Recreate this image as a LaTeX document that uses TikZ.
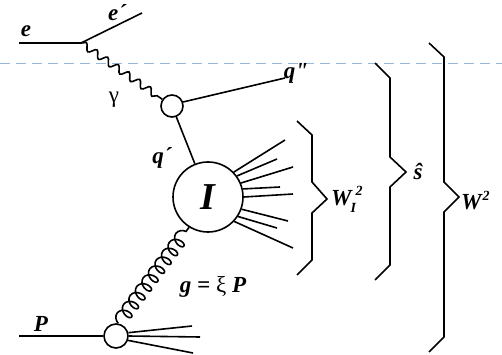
\documentclass[tikz,border=0pt]{standalone}
\usepackage{fontspec}
\setmainfont{Liberation Serif}
\usetikzlibrary{positioning, calc, decorations.pathmorphing}
\definecolor{CutBlue}{RGB}{150, 185, 215}
\newcommand{\supsz}{\fontsize{14}{14}\selectfont}

\begin{document}
\begin{tikzpicture}[x=1pt, y=-1pt,
    line/.style={line width=1.6pt, draw=black},
    vertex/.style={circle, draw=black, line width=1.6pt, fill=white, inner sep=0pt, minimum size=#1},
    tag/.style={inner sep=0pt, font=\fontsize{23}{26}\selectfont\bfseries\itshape},
    greek/.style={inner sep=0pt, font=\fontsize{23}{26}\selectfont},
    photon/.style={line, decorate, decoration={snake, amplitude=3.5pt, segment length=13pt}},
    gluon/.style={line, decorate, decoration={coil, amplitude=7pt, segment length=11pt, aspect=0.7}},
    brace/.style={line width=1.6pt, line join=miter}
]
    \useasboundingbox (0,0) rectangle (502,355);
    \draw[CutBlue, line width=1pt, dash pattern=on 10pt off 6pt] (0,64) -- (502,64);

    \coordinate (ein) at (19,43);
    \coordinate (ev) at (81,43);
    \coordinate (eout) at (142,13);
    \node[vertex=22pt] (qv) at (172,106) {};
    \coordinate (qout) at (285,78);
    \node[vertex=70pt] (blob) at (208,197) {\fontsize{38}{38}\selectfont\bfseries\itshape I};
    \node[vertex=24pt] (pv) at (116,336) {};
    \coordinate (pin) at (19,336);

    \draw[line] (ein) -- (ev) -- (eout);
    \draw[photon] (ev) -- (qv);
    \draw[line] (qv.20) -- (qout);
    \draw[line] (qv) -- (blob);
    \draw[line] (pin) -- (pv);
    \draw[gluon] (pv.80) -- (blob.238);

    \foreach \a/\x/\y [count=\i] in {44/285/140, 36/277/159, 23/293/167, 13/280/187,
                                     0/293/194, -20/288/221, -33/277/228, -43/293/248} {
        \coordinate (jet\i) at (\x,\y);
        \draw[line] (blob.\a) -- (jet\i);
    }
    \foreach \a/\x/\y [count=\i] in {15/192/326, 0/200/337, -20/193/353} {
        \coordinate (rem\i) at (\x,\y);
        \draw[line] (pv.\a) -- (rem\i);
    }

    \draw[brace] (297,121) -- (312,135) -- (312,182) -- (327,199) -- (312,213) -- (312,260) -- (297,275);
    \draw[brace] (375,63) -- (390,78) -- (390,157) -- (406,172) -- (390,187) -- (390,265) -- (375,280);
    \draw[brace] (429,43) -- (444,57) -- (444,182) -- (459,197) -- (444,212) -- (444,337) -- (429,352);

    \node[tag] (elbl) at (26,31) {e};
    \node[tag] (eplbl) at (117,13) {e´};
    \node[greek] (gamlbl) at (114,100) {γ};
    \node[tag] (qqlbl) at (296,73) {q\textquotedbl};
    \node[tag] (qlbl) at (162,158) {q´};
    \node[tag] (glbl) at (213,287) {g = {\mdseries\upshape ξ} P};
    \node[tag] (plbl) at (41,324) {P};
    \node[tag, anchor=west] (wilbl) at (331,199) {W\kern-1pt\rlap{\raisebox{-7pt}{\supsz I}}\kern5pt\raisebox{10pt}{\supsz 2}};
    \node[tag] (shlbl) at (418,172) {\^s};
    \node[tag, anchor=west] (wlbl) at (461,201) {W\kern1pt\raisebox{9pt}{\supsz 2}};
\end{tikzpicture}
\end{document}
